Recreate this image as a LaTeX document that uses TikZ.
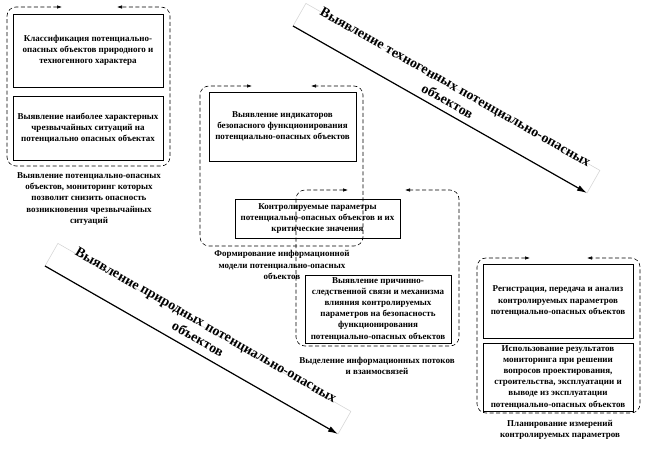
\documentclass[tikz,border=0pt]{standalone}
\usepackage{fontspec}
\setmainfont{Liberation Serif}
\usetikzlibrary{arrows.meta}
\begin{document}
\begin{tikzpicture}[x=1pt,y=-1pt,
  box/.style={draw, line width=0.9pt, align=center, inner sep=1pt,
    font=\fontsize{9}{11.2}\selectfont\bfseries},
  captxt/.style={align=center, inner sep=0pt, font=\fontsize{9}{11.2}\selectfont\bfseries},
  dframe/.style={line width=0.6pt, dash pattern=on 4pt off 2.5pt, rounded corners=9pt,
    {Latex[length=5pt,width=3.5pt]}-{Latex[length=5pt,width=3.5pt]}},
  diag/.style={line width=1.2pt, -{Latex[length=10pt,width=6pt]}},
  faintbox/.style={draw=black!18, line width=0.5pt},
  diagtext/.style={align=center, inner sep=0pt, font=\fontsize{14}{16.5}\selectfont\bfseries}
]
\useasboundingbox (0,0) rectangle (647,449);

% left group
\node[box, minimum width=150pt, minimum height=73pt] (b1) at (88,50.5)
  {Классификация потенциально-\\опасных объектов природного и\\техногенного характера};
\node[box, minimum width=150pt, minimum height=64pt] (b2) at (88,128)
  {Выявление наиболее характерных\\чрезвычайных ситуаций на\\потенциально опасных объектах};
\draw[dframe] (62,7) -- (7,7) -- (7,166) -- (170,166) -- (170,7) -- (117,7);
\node[captxt] (c1) at (89,199)
  {Выявление потенциально-опасных\\объектов, мониторинг которых\\позволит снизить опасность\\возникновения чрезвычайных\\ситуаций};

% middle upper group
\node[box, minimum width=147pt, minimum height=69pt] (b3) at (282.5,126.5)
  {Выявление индикаторов\\безопасного функционирования\\потенциально-опасных объектов};
\node[box, minimum width=165pt, minimum height=39pt] (b4) at (317.5,218.5)
  {Контролируемые параметры\\потенциально-опасных объектов и их\\критические значения};
\draw[dframe] (252,86) -- (200,86) -- (200,246) -- (363,246) -- (363,86) -- (311,86);
\node[captxt] (c2) at (282,265)
  {Формирование информационной\\модели потенциально-опасных\\объектов};

% middle lower group
\node[box, minimum width=146pt, minimum height=68pt] (b5) at (378,309)
  {Выявление причинно-\\следственной связи и механизма\\влияния контролируемых\\параметров на безопасность\\функционирования\\потенциально-опасных объектов};
\draw[dframe] (348,190) -- (296,190) -- (296,346) -- (459,346) -- (459,190) -- (405,190);
\node[captxt] (c3) at (377,366)
  {Выделение информационных потоков\\и взаимосвязей};

% right group
\node[box, minimum width=150pt, minimum height=74pt] (b6) at (558,301)
  {Регистрация, передача и анализ\\контролируемых параметров\\потенциально-опасных объектов};
\node[box, minimum width=150pt, minimum height=68pt] (b7) at (558,377)
  {Использование результатов\\мониторинга при решении\\вопросов проектирования,\\строительства, эксплуатации и\\выводе из эксплуатации\\потенциально-опасных объектов};
\draw[dframe] (530,258) -- (477,258) -- (477,413) -- (640,413) -- (640,258) -- (587,258);
\node[captxt] (c4) at (560,430)
  {Планирование измерений\\контролируемых параметров};

% diagonal arrows
\coordinate (ua1) at (293,26);
\coordinate (ua2) at (587,193);
\draw[faintbox] (ua1) -- (ua2) -- ++(12.9,-22.6) -- ++(-294,-167) -- cycle;
\draw[diag] (ua1) -- (ua2);
\node[diagtext, rotate=-29.6] (ut) at (451.5,94)
  {Выявление техногенных потенциально-опасных\\объектов};

\coordinate (la1) at (45,266);
\coordinate (la2) at (338,434);
\draw[faintbox] (la1) -- (la2) -- ++(12.9,-22.6) -- ++(-293,-168) -- cycle;
\draw[diag] (la1) -- (la2);
\node[diagtext, rotate=-29.8] (lt) at (202,332)
  {Выявление природных потенциально-опасных\\объектов};
\end{tikzpicture}
\end{document}
